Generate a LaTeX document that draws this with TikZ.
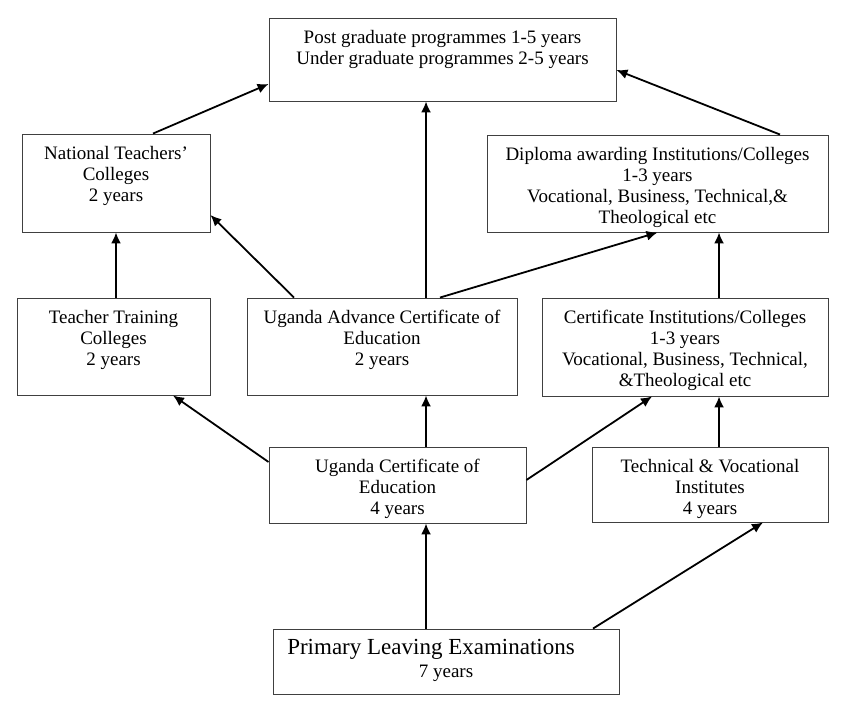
\documentclass[tikz,border=0pt]{standalone}
\usepackage{fontspec}
\setmainfont{Liberation Serif}
\usetikzlibrary{arrows.meta,positioning}

\newcommand{\boxlines}[3]{\parbox[c][#2][t]{#1}{\centering\rule{0pt}{25pt}#3}}

\begin{document}
\begin{tikzpicture}[
    x=1pt, y=-1pt,
    box/.style={rectangle, draw=black!75, line width=0.9pt, inner sep=0pt, font=\fontsize{19}{21}\selectfont},
    arrow/.style={-{Latex[length=11pt,width=10pt]}, line width=1.8pt}
]
\useasboundingbox (0,0) rectangle (850,710);

% boxes
\node[box] (post) at (442.5,59.5) {\boxlines{347pt}{83pt}{Post graduate programmes 1-5 years\\Under graduate programmes 2-5 years}};
\node[box] (ntc) at (116,183) {\boxlines{188pt}{98pt}{National Teachers'\\Colleges\\2 years}};
\node[box] (dip) at (657.5,183.5) {\boxlines{341pt}{97pt}{Diploma awarding Institutions/Colleges\\1-3 years\\Vocational, Business, Technical,\&\\Theological etc}};
\node[box] (ttc) at (113.5,346.5) {\boxlines{193pt}{97pt}{Teacher Training\\Colleges\\2 years}};
\node[box] (uace) at (382,346.5) {\boxlines{270pt}{97pt}{Uganda Advance Certificate of\\Education\\2 years}};
\node[box] (cert) at (685,347) {\boxlines{286pt}{98pt}{Certificate Institutions/Colleges\\1-3 years\\Vocational, Business, Technical,\\\&Theological etc}};
\node[box] (uce) at (397.5,485) {\boxlines{257pt}{76pt}{Uganda Certificate of\\Education\\4 years}};
\node[box] (tvi) at (710,484.5) {\boxlines{236pt}{75pt}{Technical \& Vocational\\Institutes\\4 years}};
\node[box, font=\fontsize{23}{23}\selectfont] (ple) at (446,661.5) {\boxlines{346pt}{65pt}{Primary Leaving Examinations\hspace*{30pt}\mbox{}\\{\fontsize{19}{21}\selectfont 7 years}}};

% arrows
\draw[arrow] ([xshift=37pt]ntc.north) -- ([yshift=-24.5pt]post.west);
\draw[arrow] ([xshift=122.5pt]dip.north) -- ([yshift=-10.5pt]post.east);
\draw[arrow] ([xshift=44pt]uace.north) -- ([xshift=44pt]uace.north |- post.south);
\draw[arrow] ([xshift=-88pt]uace.north) -- ([yshift=-32pt]ntc.east);
\draw[arrow] ([xshift=58pt]uace.north) -- (dip.south);
\draw[arrow] (ttc.north -| ntc.south) -- (ntc.south);
\draw[arrow] ([xshift=34pt]cert.north) -- ([xshift=34pt]cert.north |- dip.south);
\draw[arrow] ([xshift=9pt]tvi.north) -- ([xshift=9pt]tvi.north |- cert.south);
\draw[arrow] ([yshift=23pt]uce.west) -- ([xshift=59.5pt]ttc.south);
\draw[arrow] ([xshift=28.5pt]uce.north) -- ([xshift=28.5pt]uce.north |- uace.south);
\draw[arrow] ([yshift=5pt]uce.east) -- ([xshift=-33pt]cert.south);
\draw[arrow] ([xshift=-20pt]ple.north) -- ([xshift=-20pt]ple.north |- uce.south);
\draw[arrow] ([xshift=147pt]ple.north) -- ([xshift=53pt]tvi.south);
\end{tikzpicture}
\end{document}
